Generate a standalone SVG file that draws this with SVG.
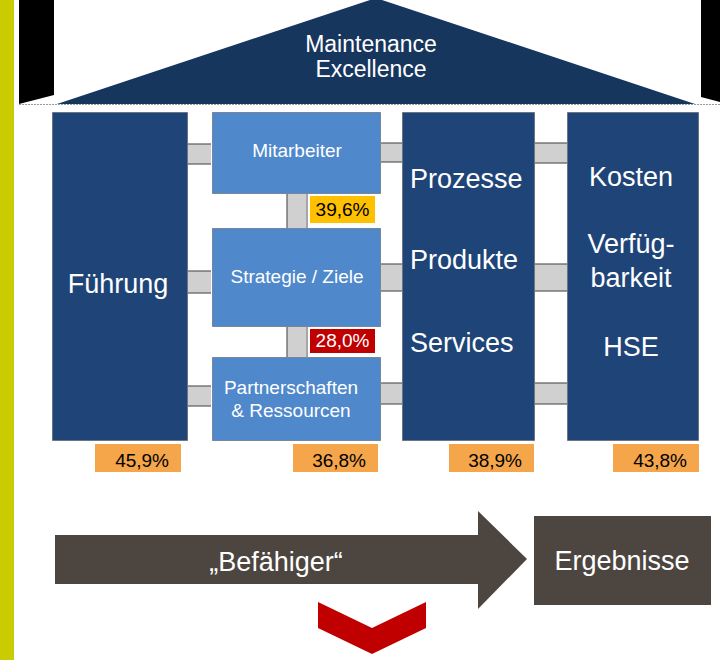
<svg xmlns="http://www.w3.org/2000/svg" width="720" height="660" viewBox="0 0 720 660">
<style>
  .t { font-family: "Liberation Sans", Arial, sans-serif; }
  .w { fill: #ffffff; }
  .k { fill: #000000; }
  .col { fill: #1f4578; stroke: #4a4a4a; stroke-width: 1; stroke-dasharray: 1 1; }
  .sb { fill: #4f88cb; stroke: #4a4a4a; stroke-width: 1; stroke-dasharray: 1 1; }
  .pipe { fill: #d0d0d0; }
  .edge { stroke: #5a5a5a; stroke-width: 1.2; }
  .pct { fill: #f5a54a; }
</style>
<rect width="720" height="660" fill="#ffffff"/>
<rect x="0" y="0" width="14" height="660" fill="#c8cc00"/>
<polygon points="19,0 54,0 54,95 19,104" fill="#000000"/>
<polygon points="701,0 720,0 720,102 701,97" fill="#000000"/>

<g id="roof">
  <polygon points="57,104 376,-2 695,104" fill="#17365d"/>
  <line x1="19" y1="104.5" x2="720" y2="104.5" stroke="#9a9a9a" stroke-width="1" stroke-dasharray="2 1"/>
  <text class="t w" x="371" y="52" font-size="23" text-anchor="middle">Maintenance</text>
  <text class="t w" x="371" y="77" font-size="23" text-anchor="middle">Excellence</text>
</g>

<g id="connectors">
  <g class="pipe">
    <rect x="188" y="144" width="23" height="20"/>
    <rect x="188" y="271" width="23" height="22"/>
    <rect x="188" y="386" width="23" height="20"/>
    <rect x="381" y="143" width="21" height="19"/>
    <rect x="381" y="264" width="21" height="27"/>
    <rect x="381" y="383" width="21" height="21"/>
    <rect x="535" y="143" width="32" height="20"/>
    <rect x="535" y="264" width="32" height="27"/>
    <rect x="535" y="383" width="32" height="21"/>
    <rect x="287" y="194" width="21" height="34"/>
    <rect x="287" y="327" width="21" height="30"/>
  </g>
  <g class="edge">
    <line x1="188" y1="144" x2="211" y2="144"/><line x1="188" y1="164" x2="211" y2="164"/>
    <line x1="188" y1="271" x2="211" y2="271"/><line x1="188" y1="293" x2="211" y2="293"/>
    <line x1="188" y1="386" x2="211" y2="386"/><line x1="188" y1="406" x2="211" y2="406"/>
    <line x1="381" y1="143" x2="402" y2="143"/><line x1="381" y1="162" x2="402" y2="162"/>
    <line x1="381" y1="264" x2="402" y2="264"/><line x1="381" y1="291" x2="402" y2="291"/>
    <line x1="381" y1="383" x2="402" y2="383"/><line x1="381" y1="404" x2="402" y2="404"/>
    <line x1="535" y1="143" x2="567" y2="143"/><line x1="535" y1="163" x2="567" y2="163"/>
    <line x1="535" y1="264" x2="567" y2="264"/><line x1="535" y1="291" x2="567" y2="291"/>
    <line x1="535" y1="383" x2="567" y2="383"/><line x1="535" y1="404" x2="567" y2="404"/>
    <line x1="287" y1="194" x2="287" y2="228"/><line x1="307" y1="194" x2="307" y2="228" stroke="#8a8a8a"/>
    <line x1="287" y1="327" x2="287" y2="357"/><line x1="307" y1="327" x2="307" y2="357" stroke="#8a8a8a"/>
  </g>
</g>

<g id="fuehrung">
  <rect class="col" x="52.5" y="112.5" width="135" height="328"/>
  <text class="t w" x="118" y="293" font-size="27" text-anchor="middle">Führung</text>
</g>

<g id="mitarbeiter">
  <rect class="sb" x="212.5" y="112.5" width="168" height="81"/>
  <text class="t w" x="297" y="157" font-size="19" text-anchor="middle">Mitarbeiter</text>
</g>

<g id="strategie">
  <rect class="sb" x="212.5" y="228.5" width="168" height="98"/>
  <text class="t w" x="297" y="283" font-size="19" text-anchor="middle">Strategie / Ziele</text>
</g>

<g id="partner">
  <rect class="sb" x="212.5" y="357.5" width="168" height="83"/>
  <text class="t w" x="291" y="394" font-size="19" text-anchor="middle">Partnerschaften</text>
  <text class="t w" x="291" y="417" font-size="19" text-anchor="middle">&amp; Ressourcen</text>
</g>

<g id="prozesse">
  <rect class="col" x="402.5" y="112.5" width="132" height="328"/>
  <text class="t w" x="410" y="188" font-size="27">Prozesse</text>
  <text class="t w" x="410" y="269" font-size="27">Produkte</text>
  <text class="t w" x="410" y="352" font-size="27">Services</text>
</g>

<g id="kosten">
  <rect class="col" x="567.5" y="112.5" width="131" height="328"/>
  <text class="t w" x="631" y="186" font-size="27" text-anchor="middle">Kosten</text>
  <text class="t w" x="631" y="253" font-size="27" text-anchor="middle">Verfüg-</text>
  <text class="t w" x="631" y="287" font-size="27" text-anchor="middle">barkeit</text>
  <text class="t w" x="631" y="356" font-size="27" text-anchor="middle">HSE</text>
</g>

<g id="pct-mitarbeiter">
  <rect x="310" y="196" width="65" height="27" fill="#ffc000"/>
  <text class="t k" x="342.5" y="216" font-size="19" text-anchor="middle">39,6%</text>
</g>
<g id="pct-strategie">
  <rect x="310" y="329" width="65" height="24" fill="#c00000"/>
  <text class="t w" x="342.5" y="347" font-size="19" text-anchor="middle">28,0%</text>
</g>
<g id="pct-fuehrung">
  <rect class="pct" x="95" y="444" width="86" height="28"/>
  <text class="t k" x="169" y="467" font-size="19" text-anchor="end">45,9%</text>
</g>
<g id="pct-partner">
  <rect class="pct" x="293" y="444" width="85" height="28"/>
  <text class="t k" x="366" y="467" font-size="19" text-anchor="end">36,8%</text>
</g>
<g id="pct-prozesse">
  <rect class="pct" x="449" y="444" width="85" height="28"/>
  <text class="t k" x="522" y="467" font-size="19" text-anchor="end">38,9%</text>
</g>
<g id="pct-kosten">
  <rect class="pct" x="613" y="444" width="86" height="28"/>
  <text class="t k" x="687" y="467" font-size="19" text-anchor="end">43,8%</text>
</g>

<g id="befaehiger">
  <polygon points="55,535 478,535 478,511 527,559 478,609 478,584 55,584" fill="#4d4640"/>
  <text class="t w" x="276" y="571" font-size="27" text-anchor="middle">„Befähiger“</text>
</g>

<g id="ergebnisse">
  <rect x="534" y="516" width="177" height="89" fill="#4d4640"/>
  <text class="t w" x="622" y="570" font-size="27" text-anchor="middle">Ergebnisse</text>
</g>

<g id="chevron">
  <polygon points="318,602 372,628 426,602 426,628 372,654 318,628" fill="#c00000"/>
</g>
</svg>
